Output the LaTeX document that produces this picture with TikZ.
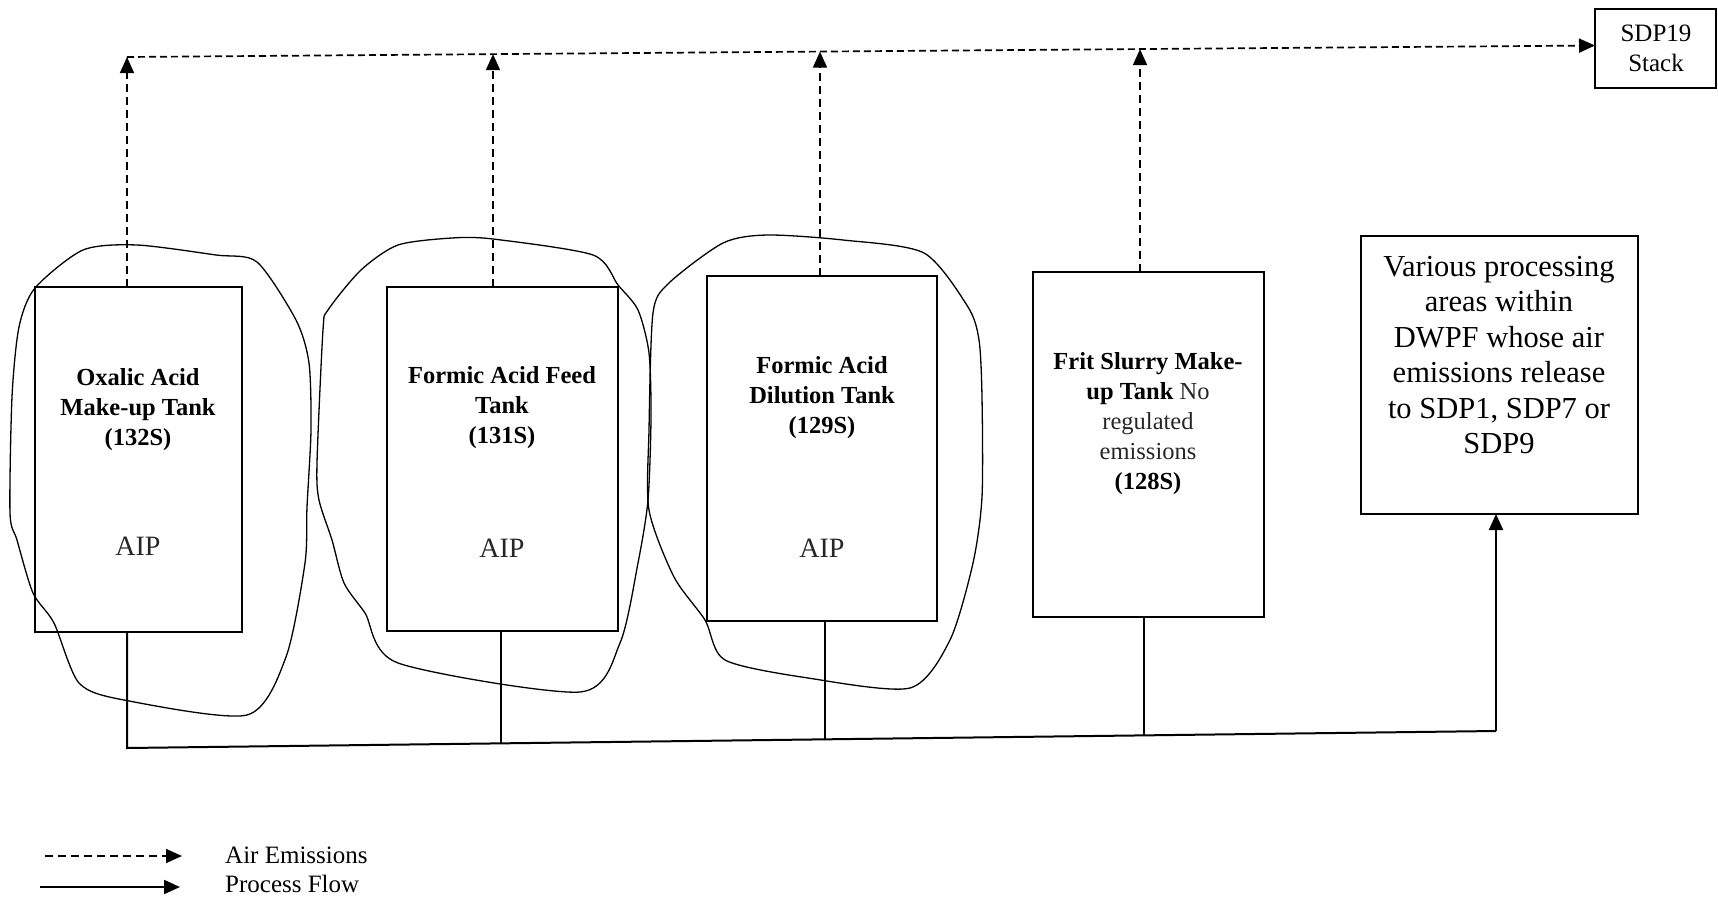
\documentclass[tikz,border=0pt]{standalone}
\usepackage{fontspec}
\setmainfont{Liberation Serif}
\usetikzlibrary{arrows.meta,calc}
\begin{document}
\begin{tikzpicture}[x=1pt,y=-1pt,
  box/.style={draw,line width=2.2pt,inner sep=0pt,outer sep=0pt},
  air/.style={line width=1.6pt,dash pattern=on 8pt off 5pt,-{Triangle[length=16pt,width=14pt]}},
  airtop/.style={line width=1.7pt,dash pattern=on 7pt off 4pt,-{Triangle[length=16pt,width=14pt]}},
  flow/.style={line width=2pt},
  flowarrow/.style={line width=2pt,-{Triangle[length=16pt,width=14pt]}},
  blob/.style={line width=1.3pt},
  title/.style={font=\bfseries\fontsize{24.5}{30}\selectfont,align=center,inner sep=0pt},
  aip/.style={font=\fontsize{28}{30}\selectfont,inner sep=0pt,text=black!85},
  legend/.style={font=\fontsize{25}{27}\selectfont,inner sep=0pt,anchor=west},
  ]
\useasboundingbox (0,0) rectangle (1718,899);

% enclosing outlines
\draw[blob] plot[smooth cycle,tension=0.45] coordinates {(35,288) (83,250) (137,245) (216,255) (257,262) (296,320) (309,363) (311,430) (307,507) (305,563) (286,657) (247,715) (124,700) (79,683) (54,623) (33,593) (17,540) (10,513) (12,397) (19,327)};
\draw[blob] plot[smooth cycle,tension=0.45] coordinates {(328,310) (361,270) (398,245) (452,238) (493,239) (593,255) (618,285) (638,310) (649,353) (651,417) (648,500) (638,563) (620,643) (580,692) (398,663) (365,613) (344,583) (332,540) (319,500) (317,463) (323,330)};
\draw[blob] plot[smooth cycle,tension=0.45] coordinates {(653,313) (669,283) (723,243) (767,235) (843,240) (924,253) (968,307) (979,340) (982,397) (982,497) (973,563) (950,640) (910,688) (808,678) (725,660) (705,620) (674,577) (649,510) (649,430)};

% boxes
\node[box,minimum width=207pt,minimum height=345pt] (t132) at (138.5,459.5) {};
\node[box,minimum width=231pt,minimum height=344pt] (t131) at (502.5,459) {};
\node[box,minimum width=230pt,minimum height=345pt] (t129) at (822,448.5) {};
\node[box,minimum width=231pt,minimum height=345pt] (t128) at (1148.5,444.5) {};
\node[box,minimum width=277pt,minimum height=278pt] (various) at (1499.5,375) {};
\node[box,minimum width=121pt,minimum height=79pt] (sdp) at (1655.5,48.5) {};

% texts
\node[title] (l132) at (138,410) {Oxalic Acid\\Make-up Tank\\(132S)};
\node[aip] (a132) at (138,546) {AIP};
\node[title] (l131) at (502,408) {Formic Acid Feed\\Tank\\(131S)};
\node[aip] (a131) at (502,548) {AIP};
\node[title] (l129) at (822,398) {Formic Acid\\Dilution Tank\\(129S)};
\node[aip] (a129) at (822,548) {AIP};
\node[title] (l128) at (1148,424) {Frit Slurry Make-\\up Tank {\mdseries\color{black!85}No}\\{\mdseries\color{black!85}regulated}\\{\mdseries\color{black!85}emissions}\\(128S)};
\node[font=\fontsize{30.5}{35.5}\selectfont,align=center,inner sep=0pt] (lv) at (1499,355) {Various processing\\areas within\\DWPF whose air\\emissions release\\to SDP1, SDP7 or\\SDP9};
\node[font=\fontsize{25}{30}\selectfont,align=center,inner sep=0pt] (ls) at (1656,48) {SDP19\\Stack};

% air emissions header line
\coordinate (t1) at (127,57);
\coordinate (t2) at (493,54.1);
\coordinate (t3) at (820,51.6);
\coordinate (t4) at (1140,49.1);
\draw[airtop] (t1) -- ([yshift=3pt]sdp.west);
\draw[air] (t1 |- t132.north) -- (t1);
\draw[air] (t2 |- t131.north) -- (t2);
\draw[air] (t3 |- t129.north) -- (t3);
\draw[air] (t4 |- t128.north) -- (t4);

% process flow line
\coordinate (b1) at (127,748);
\coordinate (b2) at (501,743.4);
\coordinate (b3) at (825,739.3);
\coordinate (b4) at (1144,735.4);
\coordinate (b5) at (1496,731);
\draw[flow] (b1 |- t132.south) -- (b1) -- (b5);
\draw[flow] (b2 |- t131.south) -- (b2);
\draw[flow] (b3 |- t129.south) -- (b3);
\draw[flow] (b4 |- t128.south) -- (b4);
\draw[flowarrow] (b5) -- (b5 |- various.south);

% legend
\coordinate (la) at (45,856);
\coordinate (lb) at (182,856);
\coordinate (lc) at (40,887);
\coordinate (ld) at (180,887);
\draw[air] (la) -- (lb);
\draw[flowarrow] (lc) -- (ld);
\node[legend] (lair) at (225,855) {Air Emissions};
\node[legend] (lproc) at (225,884) {Process Flow};
\end{tikzpicture}
\end{document}
